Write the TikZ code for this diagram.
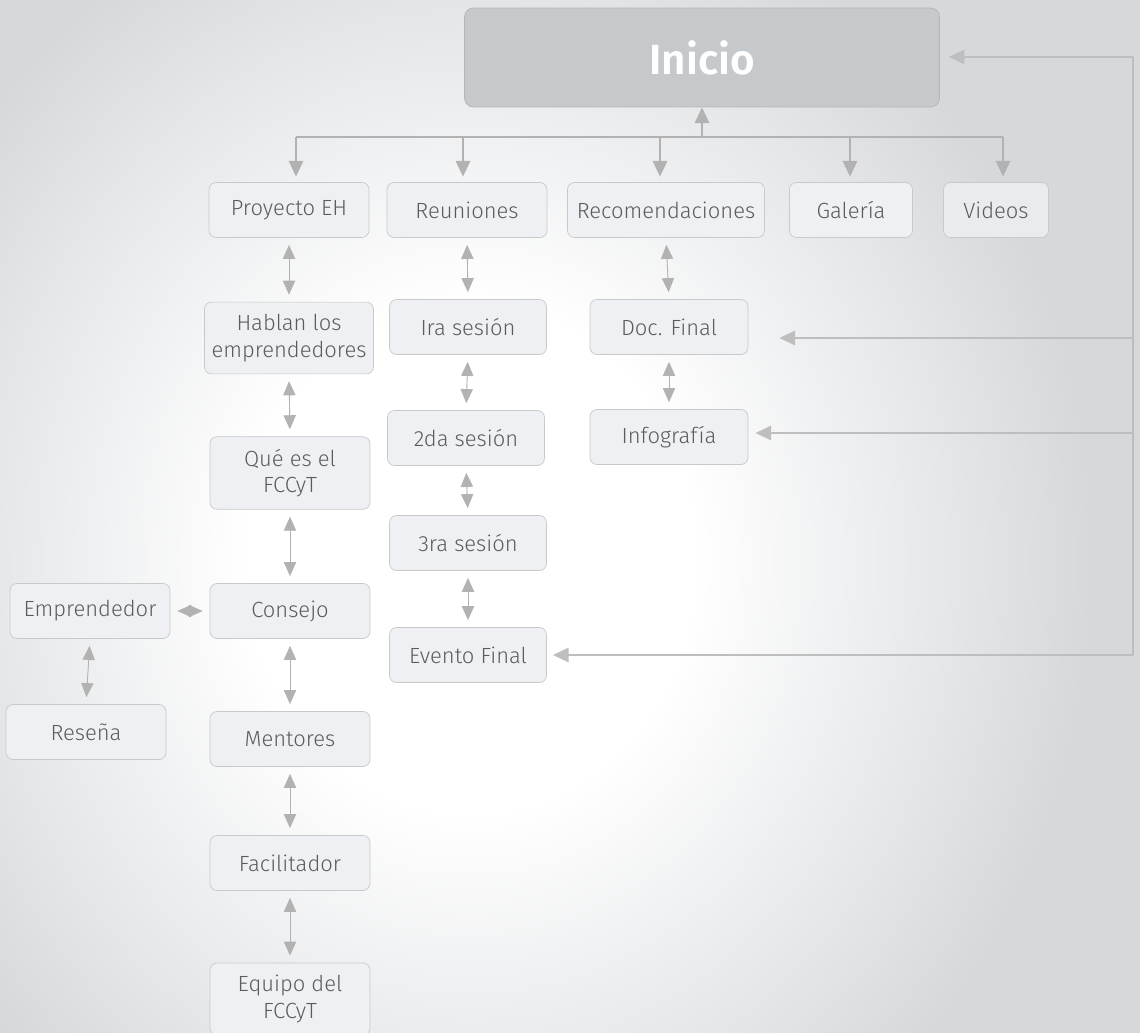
\documentclass[tikz,border=0pt]{standalone}
\usepackage{fontspec}
\setmainfont{Fira Sans}[UprightFont={* Light}, BoldFont={* SemiBold}]
\usepackage{xcolor}
\usepackage{tikz}
\usetikzlibrary{arrows.meta,positioning}

\definecolor{bggray}{HTML}{D6D9DC}
\definecolor{boxfill}{HTML}{EEF0F3}
\definecolor{boxline}{HTML}{C8C9CB}
\definecolor{txtgray}{HTML}{5C5C5C}
\definecolor{arrgray}{HTML}{B2B2B2}
\definecolor{topfill}{HTML}{C6C9CC}

\pgfdeclareradialshading{glow}{\pgfpoint{0bp}{0bp}}{color(0bp)=(white); color(9bp)=(white); color(25bp)=(bggray); color(50bp)=(bggray)}

\tikzset{
  item/.style={rectangle, rounded corners=4pt, draw=boxline, fill=boxfill, text=txtgray,
    align=center, minimum width=3.2cm, minimum height=1.1cm, inner xsep=4pt, inner ysep=7pt,
    font=\fontsize{12.5}{15}\selectfont},
  topbox/.style={rectangle, rounded corners=5pt, draw=boxline!90!black, fill=topfill, text=white,
    minimum width=9.5cm, minimum height=1.98cm, font=\fontsize{24}{28}\selectfont\bfseries},
  link/.style={{Triangle[width=7pt,length=8pt]}-{Triangle[width=7pt,length=8pt]}, draw=arrgray,
    fill=arrgray, line width=0.5pt, shorten <=4pt, shorten >=4pt},
  hubline/.style={-{Triangle[width=8pt,length=9pt]}, draw=arrgray, fill=arrgray, line width=1.6pt},
  fbline/.style={-{Triangle[width=8pt,length=9pt]}, draw=arrgray!85, fill=arrgray!85, line width=1.6pt}
}

\begin{document}
\begin{tikzpicture}[x=0.02cm, y=-0.02cm]
  \useasboundingbox (0,0) rectangle (1140,1032);
  % background
  \begin{scope}
    \clip (-10,-10) rectangle (1150,1042);
    \fill[bggray] (-10,-10) rectangle (1150,1042);
    \shade[shading=glow] (470,560) ellipse [x radius=620, y radius=700];
  \end{scope}

  % top level
  \node[topbox] (inicio) at (702,57.5) {Inicio};
  \node[item] (proy) at (289,210) {Proyecto EH};
  \node[item] (reun) at (467,210) {Reuniones};
  \node[item, minimum width=3.94cm] (recom) at (666,210) {Recomendaciones};
  \node[item, minimum width=2.46cm] (gal) at (851,210) {Galería};
  \node[item, minimum width=2.1cm, fill=boxfill!80!bggray] (vid) at (996,210) {Videos};

  % Proyecto EH column
  \node[item] (hablan) at (289,338) {Hablan los\\emprendedores};
  \node[item] (quees) at (290,473) {Qué es el\\FCCyT};
  \node[item] (consejo) at (290,611) {Consejo};
  \node[item] (mentores) at (290,739) {Mentores};
  \node[item] (facil) at (290,863) {Facilitador};
  \node[item] (equipo) at (290,999) {Equipo del\\FCCyT};
  \node[item] (empr) at (90,611) {Emprendedor};
  \node[item] (resena) at (86,732) {Reseña};

  % Reuniones column
  \node[item, minimum width=3.14cm] (ses1) at (468,327) {Ira sesión};
  \node[item, minimum width=3.14cm] (ses2) at (466,438) {2da sesión};
  \node[item, minimum width=3.14cm] (ses3) at (468,543) {3ra sesión};
  \node[item, minimum width=3.14cm] (evento) at (468,655) {Evento Final};

  % Recomendaciones column
  \node[item, minimum width=3.16cm] (docf) at (669,327) {Doc. Final};
  \node[item, minimum width=3.16cm] (info) at (669,437) {Infografía};

  % hub under Inicio
  \coordinate (hub) at (702,137);
  \draw[hubline] (hub) -- (inicio.south);
  \draw[arrgray, line width=1.6pt] (hub -| 296,0) -- (hub -| 1003,0);
  \foreach \n/\x in {proy/296, reun/463, recom/660, gal/850, vid/1003}
    \draw[hubline, shorten >=3pt] (\x,137) -- (\x,182);

  % double links
  \foreach \a/\b in {proy/hablan, hablan/quees, quees/consejo, consejo/mentores,
                     mentores/facil, facil/equipo, empr/resena,
                     reun/ses1, ses1/ses2, ses2/ses3, ses3/evento, recom/docf, docf/info}
    \draw[link] (\a.south) -- (\b.north);
  \draw[link] (empr.east) -- (consejo.west);

  % feedback line on the right
  \coordinate (fbtop) at (1133,57);
  \coordinate (fbdoc) at (1133,338);
  \coordinate (fbinfo) at (1133,433);
  \coordinate (fbbot) at (1133,655);
  \draw[arrgray!85, line width=1.6pt] (fbtop) -- (fbbot);
  \draw[fbline, shorten >=5pt] (fbtop) -- (inicio.east |- fbtop);
  \draw[fbline, shorten >=0.62cm] (fbdoc) -- (docf.east |- fbdoc);
  \draw[fbline, shorten >=0.14cm] (fbinfo) -- (info.east |- fbinfo);
  \draw[fbline, shorten >=0.12cm] (fbbot) -- (evento.east |- fbbot);
\end{tikzpicture}
\end{document}
